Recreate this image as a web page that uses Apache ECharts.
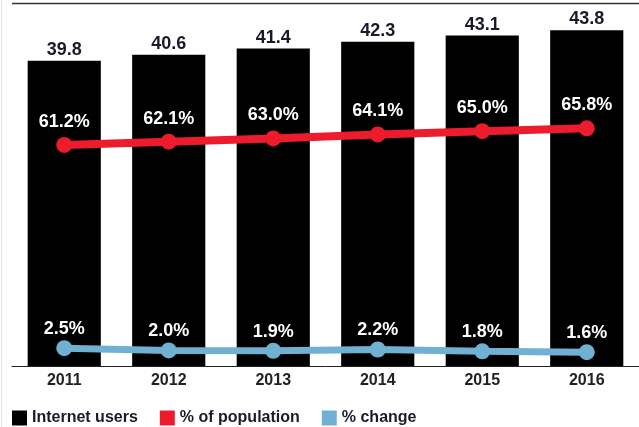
<!DOCTYPE html>
<html>
<head>
<meta charset="utf-8">
<script src="https://cdn.jsdelivr.net/npm/echarts@6/dist/echarts.min.js"></script>
<style>
  html,body{margin:0;padding:0;background:#fff;}
  #chart{width:639px;height:427px;}
</style>
</head>
<body>
<div id="chart"></div>
<script>
// internet users (millions), share of population, yearly change
var years = ['2011', '2012', '2013', '2014', '2015', '2016'];
var users = [39.8, 40.6, 41.4, 42.3, 43.1, 43.8];
var popShare = [61.2, 62.1, 63.0, 64.1, 65.0, 65.8];
var change = [2.5, 2.0, 1.9, 2.2, 1.8, 1.6];

var FONT = '"Liberation Sans", Arial, sans-serif';
var RED = '#ec1c2c', BLUE = '#6fb0d3';

var chart = echarts.init(document.getElementById('chart'));

function pct(p){ return p.value.toFixed(1) + '%'; }

chart.setOption({
  animation: false,
  backgroundColor: '#fff',
  grid: {left: 12, right: 0, top: 21, bottom: 61},
  graphic: [
    {type: 'line', shape: {x1: 12, y1: 3.5, x2: 639, y2: 3.5}, style: {stroke: '#333', lineWidth: 1.5}},
    {type: 'line', shape: {x1: 1.5, y1: 0, x2: 1.5, y2: 427}, style: {stroke: '#e4e4e4', lineWidth: 1}}
  ],
  legend: {
    left: 7, top: 405,
    itemWidth: 15, itemHeight: 15, itemGap: 22,
    icon: 'rect',
    textStyle: {fontFamily: FONT, fontSize: 16, fontWeight: 'bold', color: '#1a1a2a'},
    data: ['Internet users', '% of population', '% change']
  },
  xAxis: {
    type: 'category', data: years,
    axisLine: {lineStyle: {color: '#222', width: 1}},
    axisTick: {show: false},
    axisLabel: {margin: 7, fontFamily: FONT, fontSize: 16, fontWeight: 'bold', color: '#222'}
  },
  yAxis: [
    {type: 'value', min: 0, max: 45, show: false, splitLine: {show: false}},
    {type: 'value', min: 0, max: 95.5, show: false, splitLine: {show: false}},
    {type: 'value', min: -1.5, max: 76, show: false, splitLine: {show: false}}
  ],
  series: [
    {
      name: 'Internet users', type: 'bar', data: users, yAxisIndex: 0,
      barCategoryGap: '30%',
      itemStyle: {color: '#000'},
      label: {show: true, position: 'top', distance: 2, fontFamily: FONT, fontSize: 18,
        fontWeight: 'bold', color: '#1a1a2a', formatter: function(p){ return p.value.toFixed(1); }}
    },
    {
      name: '% of population', type: 'line', data: popShare, yAxisIndex: 1,
      symbol: 'circle', symbolSize: 16,
      lineStyle: {color: RED, width: 8},
      itemStyle: {color: RED},
      label: {show: true, position: 'top', distance: 6, fontFamily: FONT, fontSize: 18,
        fontWeight: 'bold', color: '#fff', formatter: pct}
    },
    {
      name: '% change', type: 'line', data: change, yAxisIndex: 2,
      symbol: 'circle', symbolSize: 16,
      lineStyle: {color: BLUE, width: 7},
      itemStyle: {color: BLUE},
      label: {show: true, position: 'top', distance: 2, fontFamily: FONT, fontSize: 18,
        fontWeight: 'bold', color: '#fff', formatter: pct}
    }
  ]
});
</script>
</body>
</html>
